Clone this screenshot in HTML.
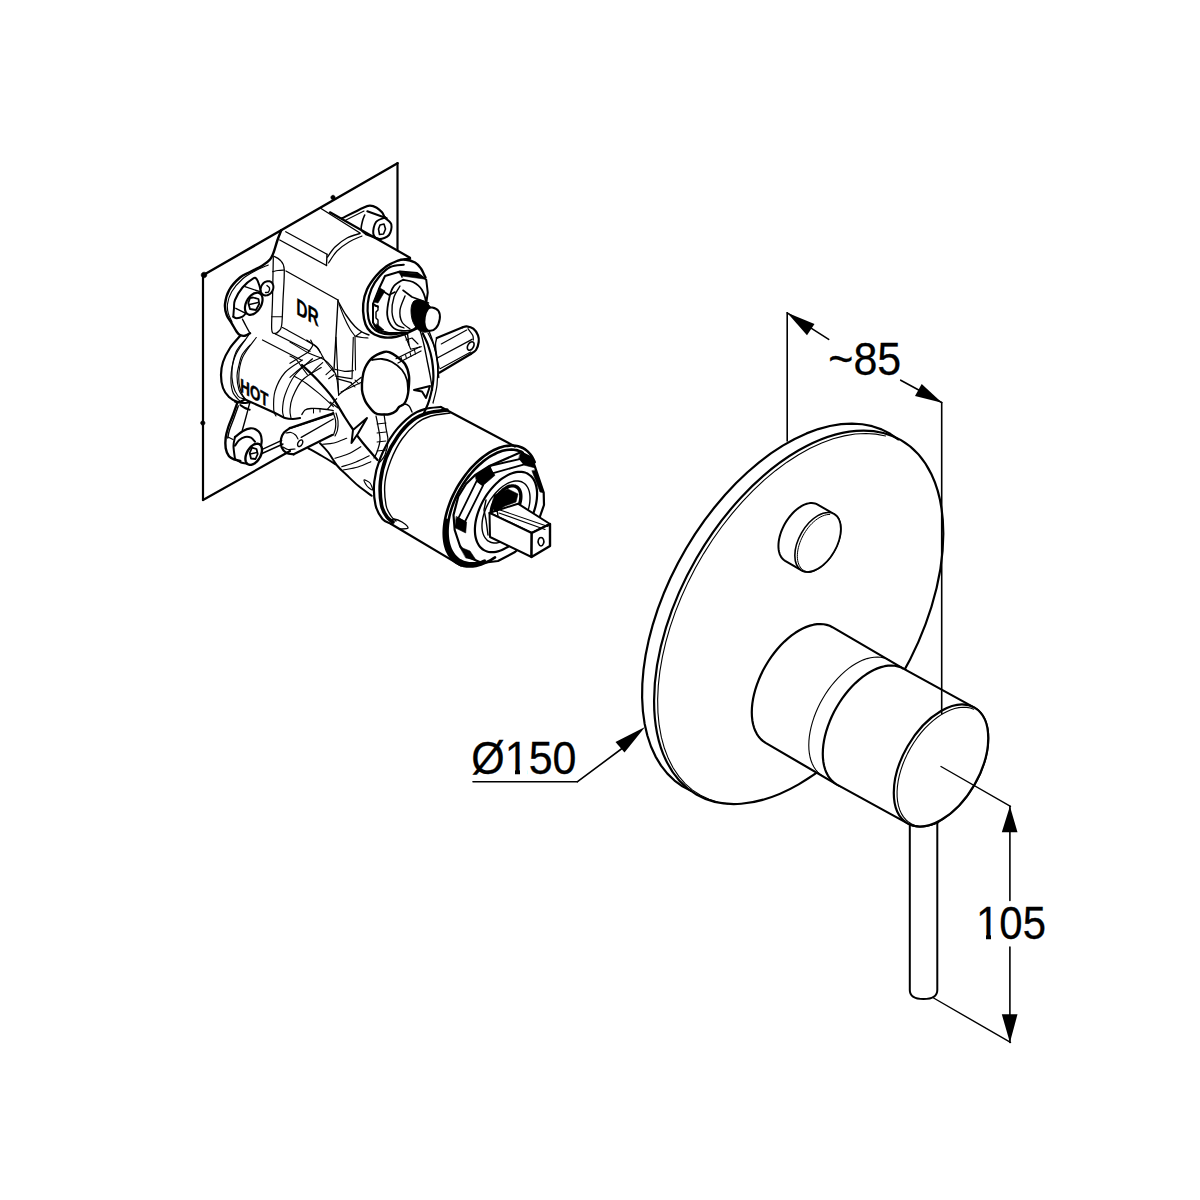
<!DOCTYPE html>
<html><head><meta charset="utf-8"><style>
html,body{margin:0;padding:0;background:#fff;width:1200px;height:1200px;overflow:hidden}
svg{position:absolute;left:0;top:0}
.t{position:absolute;font-family:"Liberation Sans",sans-serif;font-size:43px;line-height:43px;color:#000;white-space:nowrap;transform-origin:0 0;transform:scaleY(1.07);-webkit-text-stroke:0.25px #000}
</style></head><body>
<svg width="1200" height="1200" viewBox="0 0 1200 1200" fill="none" stroke="#000" stroke-linecap="round" stroke-linejoin="round">
<path d="M203.00 275.30 L397.50 163.20" stroke-width="2.40"/>
<path d="M397.50 163.20 L397.50 250.30" stroke-width="2.20"/>
<path d="M203.00 275.30 L203.00 500.00" stroke-width="2.20"/>
<path d="M203.00 500.00 L290.00 451.00" stroke-width="2.20"/>
<path d="M281.25 230.25 C280.62 231.88 278.75 236.38 277.50 240.00 C276.25 243.62 275.00 248.75 273.75 252.00 C272.50 255.25 271.88 257.25 270.00 259.50 C268.12 261.75 265.83 263.42 262.50 265.50 C259.17 267.58 253.75 270.00 250.00 272.00 C246.25 274.00 243.47 274.50 240.00 277.50 C236.53 280.50 231.70 285.55 229.20 290.00 C226.70 294.45 225.42 300.03 225.00 304.20 C224.58 308.37 225.58 311.82 226.70 315.00 C227.82 318.18 230.03 320.52 231.70 323.30 C233.37 326.08 235.32 329.75 236.70 331.70 C238.08 333.65 238.62 334.32 240.00 335.00 C241.38 335.68 243.33 336.08 245.00 335.80 C246.67 335.52 249.17 333.72 250.00 333.30" stroke-width="2.40"/>
<path d="M268.30 265.00 C266.08 266.00 259.30 268.67 255.00 271.00 C250.70 273.33 246.38 275.55 242.50 279.00 C238.62 282.45 234.20 287.53 231.70 291.70 C229.20 295.87 228.07 300.40 227.50 304.00 C226.93 307.60 227.55 310.30 228.30 313.30 C229.05 316.30 231.38 320.55 232.00 322.00" stroke-width="1.15"/>
<path d="M242.50 319.20 C243.08 320.33 244.75 323.65 246.00 326.00 C247.25 328.35 249.33 332.08 250.00 333.30" stroke-width="1.38"/>
<path d="M240.00 336.00 C238.33 338.00 232.83 343.67 230.00 348.00 C227.17 352.33 224.50 357.50 223.00 362.00 C221.50 366.50 221.00 370.67 221.00 375.00 C221.00 379.33 221.67 384.33 223.00 388.00 C224.33 391.67 226.50 394.67 229.00 397.00 C231.50 399.33 235.50 401.50 238.00 402.00 C240.50 402.50 243.00 400.33 244.00 400.00" stroke-width="2.20"/>
<path d="M245.00 340.00 C243.50 342.00 238.17 347.00 236.00 352.00 C233.83 357.00 232.50 364.50 232.00 370.00 C231.50 375.50 232.00 380.67 233.00 385.00 C234.00 389.33 236.17 393.67 238.00 396.00 C239.83 398.33 243.00 398.50 244.00 399.00" stroke-width="1.15"/>
<path d="M250.00 345.00 C248.67 346.67 243.83 351.67 242.00 355.00 C240.17 358.33 239.83 361.50 239.00 365.00 C238.17 368.50 237.00 371.83 237.00 376.00 C237.00 380.17 237.83 386.33 239.00 390.00 C240.17 393.67 243.17 396.67 244.00 398.00" stroke-width="1.15"/>
<path d="M244.00 399.00 C249.17 401.33 268.17 409.83 275.00 413.00 C281.83 416.17 282.00 417.00 285.00 418.00 C288.00 419.00 290.50 419.00 293.00 419.00 C295.50 419.00 298.83 418.17 300.00 418.00" stroke-width="2.20"/>
<path d="M282.50 327.50 C287.71 330.42 307.50 340.92 313.75 345.00 C320.00 349.08 318.96 350.83 320.00 352.00" stroke-width="1.26"/>
<path d="M275.00 333.75 L310.00 351.25" stroke-width="1.26"/>
<path d="M262.50 340.00 L301.25 360.00" stroke-width="1.26"/>
<path d="M248.75 335.00 C246.67 338.12 239.17 347.50 236.25 353.75 C233.33 360.00 231.88 366.25 231.25 372.50 C230.62 378.75 231.04 386.46 232.50 391.25 C233.96 396.04 238.75 399.58 240.00 401.25" stroke-width="1.15"/>
<path d="M256.25 337.50 C253.96 340.83 245.42 350.62 242.50 357.50 C239.58 364.38 238.75 372.50 238.75 378.75 C238.75 385.00 240.62 390.96 242.50 395.00 C244.38 399.04 248.75 401.67 250.00 403.00" stroke-width="1.15"/>
<path d="M302.50 360.00 C299.58 362.08 289.58 367.29 285.00 372.50 C280.42 377.71 276.88 385.00 275.00 391.25 C273.12 397.50 273.58 405.88 273.75 410.00 C273.92 414.12 275.62 415.00 276.00 416.00" stroke-width="1.15"/>
<path d="M312.50 358.75 C309.58 361.46 299.58 368.96 295.00 375.00 C290.42 381.04 287.08 389.17 285.00 395.00 C282.92 400.83 282.67 406.17 282.50 410.00 C282.33 413.83 283.75 416.67 284.00 418.00" stroke-width="1.15"/>
<path d="M321.25 367.50 C318.12 369.58 307.29 375.00 302.50 380.00 C297.71 385.00 294.58 392.50 292.50 397.50 C290.42 402.50 290.25 406.58 290.00 410.00 C289.75 413.42 290.83 416.67 291.00 418.00" stroke-width="1.15"/>
<path d="M302.00 365.00 C304.58 367.50 312.42 374.58 317.50 380.00 C322.58 385.42 327.92 391.25 332.50 397.50 C337.08 403.75 341.67 412.29 345.00 417.50 C348.33 422.71 349.58 424.58 352.50 428.75 C355.42 432.92 358.33 437.29 362.50 442.50 C366.67 447.71 375.00 457.08 377.50 460.00" stroke-width="2.20"/>
<path d="M273.30 256.00 C274.42 256.67 278.18 257.80 280.00 260.00 C281.82 262.20 283.70 262.53 284.20 269.20 C284.70 275.87 283.42 290.70 283.00 300.00 C282.58 309.30 282.37 319.83 281.70 325.00 C281.03 330.17 280.12 329.62 279.00 331.00 C277.88 332.38 276.22 333.60 275.00 333.30 C273.78 333.00 272.12 334.75 271.70 329.20 C271.28 323.65 272.23 311.95 272.50 300.00 C272.77 288.05 273.17 264.58 273.30 257.50" stroke-width="1.26"/>
<path d="M272.50 271.70 C273.42 271.50 276.00 270.78 278.00 270.50 C280.00 270.22 283.42 270.08 284.50 270.00" stroke-width="1.15"/>
<path d="M271.50 316.70 L282.50 316.70" stroke-width="1.15"/>
<path d="M279.75 240.00 L326.50 265.50" stroke-width="1.38"/>
<path d="M285.75 231.75 L327.00 254.25" stroke-width="1.38"/>
<path d="M321.00 208.50 L360.00 233.00" stroke-width="1.38"/>
<path d="M327.00 254.25 L326.50 265.50" stroke-width="1.38"/>
<path d="M327.50 257.00 C328.75 255.33 331.75 250.17 335.00 247.00 C338.25 243.83 342.83 240.25 347.00 238.00 C351.17 235.75 357.83 234.25 360.00 233.50" stroke-width="1.38"/>
<path d="M328.50 263.00 C329.92 261.00 333.58 254.50 337.00 251.00 C340.42 247.50 344.83 244.50 349.00 242.00 C353.17 239.50 359.83 237.00 362.00 236.00" stroke-width="1.15"/>
<path d="M286.00 271.00 L338.00 300.00" stroke-width="1.38"/>
<path d="M338.00 300.00 L334.00 370.00" stroke-width="1.38"/>
<path d="M338.00 301.00 C339.33 303.33 343.17 310.75 346.00 315.00 C348.83 319.25 352.33 323.67 355.00 326.50 C357.67 329.33 359.67 330.58 362.00 332.00 C364.33 333.42 367.83 334.50 369.00 335.00" stroke-width="1.38"/>
<path d="M339.00 304.00 C339.83 306.17 342.17 312.83 344.00 317.00 C345.83 321.17 348.17 325.83 350.00 329.00 C351.83 332.17 354.17 334.83 355.00 336.00" stroke-width="1.15"/>
<path d="M356.00 336.50 C357.00 336.67 360.00 337.25 362.00 337.50 C364.00 337.75 367.00 337.92 368.00 338.00" stroke-width="1.15"/>
<path d="M356.00 336.00 L361.50 332.00" stroke-width="1.15"/>
<path d="M355.00 336.00 L355.50 370.00" stroke-width="1.15"/>
<path d="M330.00 212.30 L410.00 257.70" stroke-width="2.20"/>
<path d="M342.00 218.30 C345.55 216.53 358.63 209.80 363.30 207.70 C367.97 205.60 367.77 205.70 370.00 205.70 C372.23 205.70 374.70 206.60 376.70 207.70 C378.70 208.80 380.78 210.92 382.00 212.30 C383.22 213.68 383.67 215.38 384.00 216.00" stroke-width="2.20"/>
<path d="M345.00 220.50 L364.00 211.00" stroke-width="1.15"/>
<path d="M367.30 211.30 L386.70 218.30" stroke-width="2.00"/>
<path d="M364.70 215.00 C364.33 216.00 363.07 218.55 362.50 221.00 C361.93 223.45 360.72 227.48 361.30 229.70 C361.88 231.92 365.22 233.53 366.00 234.30" stroke-width="1.60"/>
<path d="M366.00 234.30 L380.70 239.70" stroke-width="2.00"/>
<path d="M384.70 217.70 C385.80 218.80 390.58 221.42 391.30 224.30 C392.02 227.18 391.00 232.55 389.00 235.00 C387.00 237.45 381.92 239.22 379.30 239.00 C376.68 238.78 373.85 236.53 373.30 233.70 C372.75 230.87 374.10 224.67 376.00 222.00 C377.90 219.33 383.25 218.42 384.70 217.70 C386.15 216.98 383.60 216.60 384.70 217.70Z" stroke-width="2.00"/>
<path d="M380.00 225.00 L384.00 224.00 L385.50 229.00 L383.50 234.00 L379.50 234.50 L378.50 229.00Z" stroke-width="1.60"/>
<path d="M425.50 277.50 C425.25 277.00 424.75 276.00 424.00 274.50 C423.25 273.00 422.50 270.50 421.00 268.50 C419.50 266.50 417.75 264.00 415.00 262.50 C412.25 261.00 407.50 259.75 404.50 259.50 C401.50 259.25 400.00 259.87 397.00 261.00 C394.00 262.13 390.00 263.80 386.50 266.30 C383.00 268.80 379.25 272.13 376.00 276.00 C372.75 279.87 369.12 284.88 367.00 289.50 C364.88 294.12 363.75 298.88 363.25 303.75 C362.75 308.62 363.25 314.62 364.00 318.75 C364.75 322.88 366.00 325.88 367.75 328.50 C369.50 331.12 371.62 333.00 374.50 334.50 C377.38 336.00 381.38 337.12 385.00 337.50 C388.62 337.88 392.75 337.38 396.25 336.75 C399.75 336.12 404.38 334.25 406.00 333.75" stroke-width="2.40"/>
<path d="M410.00 258.50 L404.50 259.50" stroke-width="2.40"/>
<path d="M403.75 264.75 C401.50 265.12 394.25 265.12 390.25 267.00 C386.25 268.88 382.88 272.38 379.75 276.00 C376.62 279.62 373.50 284.12 371.50 288.75 C369.50 293.38 368.25 298.75 367.75 303.75 C367.25 308.75 367.75 314.88 368.50 318.75 C369.25 322.62 370.50 324.75 372.25 327.00 C374.00 329.25 375.88 331.00 379.00 332.25 C382.12 333.50 387.25 334.38 391.00 334.50 C394.75 334.62 399.75 333.25 401.50 333.00" stroke-width="2.20"/>
<path d="M385.00 276.00 L400.00 271.50 L417.25 273.00 L426.25 279.75 L427.75 292.50 L425.00 312.00 L418.00 328.00 L407.50 333.00 L388.75 333.00 L377.50 330.00 L373.00 322.50 L373.00 303.75 L379.00 288.75Z" stroke-width="2.00" fill="#fff"/>
<path d="M379.00 288.75 L389.00 295.00 L395.00 292.00" stroke-width="1.60"/>
<path d="M373.00 303.75 L378.00 307.00" stroke-width="1.60"/>
<path d="M400.00 271.50 L402.00 277.00" stroke-width="1.60"/>
<path d="M380.00 288.00 L385.00 291.00 L378.00 303.00 L374.00 302.00Z" stroke-width="0.57" fill="#000"/>
<path d="M398.00 272.00 L418.00 274.00 L424.00 279.00 L402.00 276.00Z" stroke-width="0.57" fill="#000"/>
<path d="M377.00 324.00 L384.00 330.00 L378.00 331.00 L374.00 326.00Z" stroke-width="0.57" fill="#000"/>
<path d="M375.00 306.00 L378.00 306.00 L378.00 310.00 L376.00 312.00 L376.00 318.00 L378.00 320.00 L378.00 325.00" stroke-width="1.40"/>
<path d="M403.00 279.75 C401.50 280.79 396.25 283.12 394.00 286.00 C391.75 288.88 390.62 292.17 389.50 297.00 C388.38 301.83 386.75 310.00 387.25 315.00 C387.75 320.00 390.12 324.38 392.50 327.00 C394.88 329.62 398.00 330.38 401.50 330.75 C405.00 331.12 410.08 331.04 413.50 329.25 C416.92 327.46 419.92 324.04 422.00 320.00 C424.08 315.96 426.00 310.00 426.00 305.00 C426.00 300.00 424.17 293.83 422.00 290.00 C419.83 286.17 416.17 283.71 413.00 282.00 C409.83 280.29 404.67 280.12 403.00 279.75" stroke-width="1.80"/>
<path d="M400.00 286.00 C399.00 287.83 395.33 292.67 394.00 297.00 C392.67 301.33 391.67 307.50 392.00 312.00 C392.33 316.50 394.00 321.33 396.00 324.00 C398.00 326.67 402.67 327.33 404.00 328.00" stroke-width="1.38"/>
<path d="M403.00 290.25 L412.00 297.00 L428.50 303.00" stroke-width="1.60"/>
<path d="M405.00 296.00 C404.17 298.33 400.50 305.67 400.00 310.00 C399.50 314.33 400.33 318.83 402.00 322.00 C403.67 325.17 408.67 327.83 410.00 329.00" stroke-width="1.40"/>
<path d="M413.50 301.50 C415.00 299.83 417.58 299.58 420.00 300.00 C422.42 300.42 426.00 302.00 428.00 304.00 C430.00 306.00 431.67 307.67 432.00 312.00 C432.33 316.33 432.00 326.83 430.00 330.00 C428.00 333.17 422.83 332.33 420.00 331.00 C417.17 329.67 414.50 325.50 413.00 322.00 C411.50 318.50 410.92 313.42 411.00 310.00 C411.08 306.58 412.00 303.17 413.50 301.50Z" stroke-width="0.92" fill="#000"/>
<path d="M432.25 307.50 C434.00 307.83 437.25 309.08 438.50 311.00 C439.75 312.92 440.17 316.17 439.75 319.00 C439.33 321.83 437.79 326.04 436.00 328.00 C434.21 329.96 430.83 331.08 429.00 330.75 C427.17 330.42 425.71 328.29 425.00 326.00 C424.29 323.71 424.25 319.83 424.75 317.00 C425.25 314.17 426.75 310.58 428.00 309.00 C429.25 307.42 430.50 307.17 432.25 307.50Z" stroke-width="2.00" fill="#fff"/>
<path d="M407.50 333.75 L409.00 345.00" stroke-width="1.38"/>
<path d="M420.25 331.00 C420.88 333.33 422.88 340.17 424.00 345.00 C425.12 349.83 426.00 355.00 427.00 360.00 C428.00 365.00 429.08 370.00 430.00 375.00 C430.92 380.00 432.08 387.50 432.50 390.00" stroke-width="1.38"/>
<path d="M429.00 331.00 C429.83 333.33 432.67 340.17 434.00 345.00 C435.33 349.83 436.21 354.58 437.00 360.00 C437.79 365.42 438.46 374.58 438.75 377.50" stroke-width="1.38"/>
<path d="M436.70 338.00 L462.70 327.30" stroke-width="2.20"/>
<path d="M462.70 327.30 C463.37 327.15 464.93 326.17 466.70 326.40 C468.47 326.63 471.42 327.22 473.30 328.70 C475.18 330.18 477.10 333.08 478.00 335.30 C478.90 337.52 479.03 339.55 478.70 342.00 C478.37 344.45 477.33 348.00 476.00 350.00 C474.67 352.00 471.58 353.33 470.70 354.00" stroke-width="2.20"/>
<path d="M470.70 354.00 L439.30 372.70" stroke-width="2.20"/>
<path d="M441.30 344.00 L466.70 330.00" stroke-width="1.15"/>
<path d="M437.30 358.00 L472.00 339.30" stroke-width="1.38"/>
<path d="M440.00 368.70 L470.70 352.00" stroke-width="1.15"/>
<path d="M468.00 328.70 C468.78 329.80 471.82 333.42 472.70 335.30 C473.58 337.18 473.20 339.22 473.30 340.00" stroke-width="1.26"/>
<path d="M473.00 342.02 C473.11 342.12 473.48 342.39 473.65 342.65 C473.82 342.92 473.95 343.26 474.01 343.62 C474.08 343.98 474.09 344.39 474.05 344.81 C474.01 345.23 473.91 345.69 473.76 346.13 C473.61 346.56 473.41 347.02 473.17 347.43 C472.93 347.84 472.64 348.24 472.34 348.59 C472.03 348.93 471.69 349.25 471.35 349.50 C471.01 349.74 470.64 349.94 470.29 350.06 C469.95 350.18 469.59 350.24 469.28 350.23 C468.96 350.22 468.65 350.13 468.40 349.98 C468.15 349.84 467.92 349.61 467.75 349.35 C467.58 349.08 467.45 348.74 467.39 348.38 C467.32 348.02 467.31 347.61 467.35 347.19 C467.39 346.77 467.49 346.31 467.64 345.87 C467.79 345.44 467.99 344.98 468.23 344.57 C468.47 344.16 468.76 343.76 469.06 343.41 C469.37 343.07 469.71 342.75 470.05 342.50 C470.39 342.26 470.76 342.06 471.11 341.94 C471.45 341.82 471.81 341.76 472.12 341.77 C472.44 341.78 472.85 341.98 473.00 342.02" stroke-width="1.60"/>
<path d="M436.70 338.00 C436.50 339.17 435.45 341.67 435.50 345.00 C435.55 348.33 436.42 354.17 437.00 358.00 C437.58 361.83 438.67 366.33 439.00 368.00" stroke-width="1.38"/>
<path d="M384.00 352.00 C381.00 352.92 375.17 355.33 372.00 358.00 C368.83 360.67 366.58 364.67 365.00 368.00 C363.42 371.33 363.00 374.33 362.50 378.00 C362.00 381.67 361.75 386.67 362.00 390.00 C362.25 393.33 363.17 395.67 364.00 398.00 C364.83 400.33 365.17 401.50 367.00 404.00 C368.83 406.50 372.33 411.25 375.00 413.00 C377.67 414.75 380.50 414.33 383.00 414.50 C385.50 414.67 387.83 414.58 390.00 414.00 C392.17 413.42 394.50 412.17 396.00 411.00 C397.50 409.83 397.67 408.17 399.00 407.00 C400.33 405.83 402.67 405.50 404.00 404.00 C405.33 402.50 406.25 400.33 407.00 398.00 C407.75 395.67 408.17 393.67 408.50 390.00 C408.83 386.33 409.58 380.33 409.00 376.00 C408.42 371.67 407.17 367.33 405.00 364.00 C402.83 360.67 398.50 357.92 396.00 356.00 C393.50 354.08 392.00 353.17 390.00 352.50 C388.00 351.83 387.00 351.08 384.00 352.00Z" stroke-width="2.40" fill="#fff"/>
<path d="M372.00 360.00 C373.67 359.83 378.67 358.67 382.00 359.00 C385.33 359.33 388.67 360.17 392.00 362.00 C395.33 363.83 399.50 367.00 402.00 370.00 C404.50 373.00 406.00 376.67 407.00 380.00 C408.00 383.33 407.83 388.33 408.00 390.00" stroke-width="1.80"/>
<path d="M399.00 407.00 C399.83 406.50 402.33 404.17 404.00 404.00 C405.67 403.83 407.67 404.67 409.00 406.00 C410.33 407.33 411.50 411.00 412.00 412.00" stroke-width="1.40"/>
<path d="M333.30 413.40 L290.00 428.00" stroke-width="2.20"/>
<path d="M290.00 428.00 C289.00 428.75 285.50 430.67 284.00 432.50 C282.50 434.33 281.42 436.58 281.00 439.00 C280.58 441.42 280.58 444.67 281.50 447.00 C282.42 449.33 284.47 451.78 286.50 453.00 C288.53 454.22 292.50 454.08 293.70 454.30" stroke-width="2.20"/>
<path d="M293.70 454.30 L332.20 435.00" stroke-width="2.20"/>
<path d="M290.75 428.50 L333.00 414.50" stroke-width="1.15"/>
<path d="M301.25 437.30 L333.30 419.00" stroke-width="1.38"/>
<path d="M286.00 433.00 C286.83 432.92 289.42 432.17 291.00 432.50 C292.58 432.83 294.33 433.92 295.50 435.00 C296.67 436.08 297.58 438.33 298.00 439.00" stroke-width="1.15"/>
<path d="M283.00 447.00 C283.83 447.42 286.00 449.17 288.00 449.50 C290.00 449.83 293.83 449.08 295.00 449.00" stroke-width="1.15"/>
<path d="M302.00 440.08 C302.08 440.16 302.36 440.36 302.49 440.57 C302.62 440.77 302.71 441.03 302.76 441.31 C302.80 441.59 302.81 441.92 302.77 442.24 C302.73 442.57 302.65 442.92 302.54 443.26 C302.42 443.60 302.26 443.96 302.07 444.28 C301.89 444.60 301.66 444.92 301.42 445.19 C301.19 445.46 300.92 445.71 300.66 445.91 C300.39 446.10 300.11 446.26 299.84 446.36 C299.58 446.46 299.31 446.51 299.07 446.50 C298.83 446.49 298.59 446.43 298.40 446.32 C298.21 446.21 298.04 446.04 297.91 445.83 C297.78 445.63 297.69 445.37 297.64 445.09 C297.60 444.81 297.59 444.48 297.63 444.16 C297.67 443.83 297.75 443.48 297.86 443.14 C297.98 442.80 298.14 442.44 298.33 442.12 C298.51 441.80 298.74 441.48 298.98 441.21 C299.21 440.94 299.48 440.69 299.74 440.49 C300.01 440.30 300.29 440.14 300.56 440.04 C300.82 439.94 301.09 439.89 301.33 439.90 C301.57 439.91 301.89 440.05 302.00 440.08" stroke-width="1.40"/>
<path d="M333.00 412.00 C333.42 413.33 335.08 417.33 335.50 420.00 C335.92 422.67 335.83 425.50 335.50 428.00 C335.17 430.50 333.83 433.83 333.50 435.00" stroke-width="1.26"/>
<path d="M336.00 413.00 C336.33 414.33 337.75 418.17 338.00 421.00 C338.25 423.83 338.00 427.50 337.50 430.00 C337.00 432.50 335.42 435.00 335.00 436.00" stroke-width="1.15"/>
<path d="M301.80 414.60 C302.33 413.83 303.47 411.02 305.00 410.00 C306.53 408.98 308.42 408.71 311.00 408.50 C313.58 408.29 316.78 408.42 320.50 408.75 C324.22 409.08 331.17 410.21 333.30 410.50" stroke-width="1.26"/>
<path d="M313.50 408.50 L313.50 413.00" stroke-width="1.03"/>
<path d="M320.00 408.50 L320.00 412.00" stroke-width="1.03"/>
<path d="M237.00 403.70 C236.33 405.58 234.45 411.12 233.00 415.00 C231.55 418.88 229.52 423.22 228.30 427.00 C227.08 430.78 226.13 434.15 225.70 437.70 C225.27 441.25 225.15 445.20 225.70 448.30 C226.25 451.40 227.45 454.40 229.00 456.30 C230.55 458.20 233.12 458.92 235.00 459.70 C236.88 460.48 239.42 460.78 240.30 461.00" stroke-width="2.40"/>
<path d="M238.30 406.00 C237.58 408.00 235.47 414.00 234.00 418.00 C232.53 422.00 230.55 426.67 229.50 430.00 C228.45 433.33 228.00 436.67 227.70 438.00" stroke-width="1.40"/>
<path d="M249.70 403.00 C249.08 405.33 247.23 412.45 246.00 417.00 C244.77 421.55 242.92 428.08 242.30 430.30" stroke-width="1.38"/>
<path d="M228.00 437.00 L233.00 439.50" stroke-width="1.38"/>
<path d="M235.00 401.70 C236.33 401.92 240.55 402.90 243.00 403.00 C245.45 403.10 248.58 402.42 249.70 402.30" stroke-width="2.00"/>
<path d="M240.30 405.00 C241.08 405.50 243.43 407.22 245.00 408.00 C246.57 408.78 248.92 409.42 249.70 409.70" stroke-width="2.00"/>
<path d="M235.00 437.00 C236.33 436.00 240.45 432.45 243.00 431.00 C245.55 429.55 248.08 428.52 250.30 428.30 C252.52 428.08 254.63 428.80 256.30 429.70 C257.97 430.60 259.40 431.93 260.30 433.70 C261.20 435.47 261.58 438.30 261.70 440.30 C261.82 442.30 261.12 444.80 261.00 445.70" stroke-width="2.20"/>
<path d="M235.00 445.70 C235.67 444.80 237.33 441.75 239.00 440.30 C240.67 438.85 243.00 437.43 245.00 437.00 C247.00 436.57 249.33 436.92 251.00 437.70 C252.67 438.48 254.33 441.03 255.00 441.70" stroke-width="2.00"/>
<path d="M235.00 437.00 C234.75 438.50 233.50 442.33 233.50 446.00 C233.50 449.67 234.75 456.83 235.00 459.00" stroke-width="2.00"/>
<path d="M235.00 459.00 C236.00 459.58 239.00 461.72 241.00 462.50 C243.00 463.28 246.00 463.50 247.00 463.70" stroke-width="2.00"/>
<path d="M259.45 444.34 C259.59 444.45 260.05 444.74 260.31 445.00 C260.57 445.26 260.81 445.56 261.02 445.89 C261.22 446.23 261.39 446.60 261.54 446.99 C261.68 447.39 261.79 447.82 261.86 448.27 C261.94 448.72 261.98 449.20 261.99 449.70 C262.00 450.19 261.97 450.71 261.91 451.24 C261.85 451.76 261.76 452.31 261.63 452.85 C261.51 453.40 261.35 453.95 261.16 454.50 C260.97 455.05 260.75 455.61 260.50 456.15 C260.25 456.69 259.98 457.23 259.68 457.75 C259.38 458.27 259.05 458.78 258.70 459.27 C258.36 459.75 257.99 460.22 257.61 460.66 C257.22 461.10 256.82 461.51 256.41 461.90 C256.01 462.28 255.58 462.63 255.15 462.95 C254.73 463.26 254.29 463.54 253.86 463.78 C253.43 464.02 252.99 464.23 252.56 464.39 C252.13 464.54 251.70 464.66 251.29 464.74 C250.88 464.82 250.47 464.85 250.08 464.84 C249.69 464.83 249.31 464.77 248.96 464.68 C248.60 464.58 248.26 464.44 247.95 464.26 C247.64 464.08 247.35 463.86 247.09 463.60 C246.83 463.34 246.59 463.04 246.38 462.71 C246.18 462.37 246.01 462.00 245.86 461.61 C245.72 461.21 245.61 460.78 245.54 460.33 C245.46 459.88 245.42 459.40 245.41 458.90 C245.40 458.41 245.43 457.89 245.49 457.36 C245.55 456.84 245.64 456.29 245.77 455.75 C245.89 455.20 246.05 454.65 246.24 454.10 C246.43 453.55 246.65 452.99 246.90 452.45 C247.15 451.91 247.42 451.37 247.72 450.85 C248.02 450.33 248.35 449.82 248.70 449.33 C249.04 448.85 249.41 448.38 249.79 447.94 C250.18 447.50 250.58 447.09 250.99 446.70 C251.39 446.32 251.82 445.97 252.25 445.65 C252.67 445.34 253.11 445.06 253.54 444.82 C253.97 444.58 254.41 444.37 254.84 444.21 C255.27 444.06 255.70 443.94 256.11 443.86 C256.52 443.78 256.93 443.75 257.32 443.76 C257.71 443.77 258.09 443.83 258.44 443.92 C258.80 444.02 259.28 444.27 259.45 444.34" stroke-width="2.40" fill="#fff"/>
<path d="M252.00 447.70 L256.50 449.00 L257.70 454.00 L255.50 459.00 L251.00 458.50 L249.70 453.00Z" stroke-width="1.80"/>
<path d="M250.00 454.00 L257.00 452.50" stroke-width="1.38"/>
<path d="M261.70 449.70 L281.70 440.30" stroke-width="1.38"/>
<path d="M262.00 453.50 L283.00 444.00" stroke-width="1.38"/>
<path d="M233.30 316.70 C233.42 315.25 233.72 310.78 234.00 308.00 C234.28 305.22 233.58 303.42 235.00 300.00 C236.42 296.58 239.45 291.12 242.50 287.50 C245.55 283.88 250.93 279.68 253.30 278.30 C255.67 276.92 255.72 278.08 256.70 279.20 C257.68 280.32 258.48 282.87 259.20 285.00 C259.92 287.13 260.70 290.83 261.00 292.00" stroke-width="2.00"/>
<path d="M233.30 316.70 C233.87 316.97 235.17 318.30 236.70 318.30 C238.23 318.30 240.95 317.58 242.50 316.70 C244.05 315.82 245.42 313.62 246.00 313.00" stroke-width="2.00"/>
<path d="M245.00 286.70 L260.00 291.70" stroke-width="1.38"/>
<path d="M235.80 308.30 L245.80 313.30" stroke-width="1.38"/>
<path d="M259.75 293.36 C259.91 293.48 260.40 293.79 260.68 294.07 C260.97 294.34 261.22 294.66 261.45 295.02 C261.67 295.37 261.86 295.76 262.02 296.18 C262.18 296.60 262.30 297.05 262.39 297.53 C262.48 298.00 262.53 298.51 262.55 299.03 C262.57 299.55 262.55 300.10 262.49 300.65 C262.43 301.20 262.34 301.78 262.21 302.35 C262.09 302.92 261.93 303.50 261.73 304.08 C261.54 304.65 261.31 305.23 261.05 305.80 C260.80 306.36 260.51 306.93 260.19 307.47 C259.88 308.01 259.54 308.55 259.18 309.05 C258.81 309.55 258.43 310.04 258.02 310.50 C257.62 310.95 257.20 311.39 256.77 311.78 C256.34 312.18 255.89 312.54 255.44 312.87 C254.99 313.19 254.52 313.48 254.06 313.73 C253.60 313.97 253.14 314.18 252.68 314.34 C252.23 314.51 251.77 314.63 251.33 314.70 C250.89 314.77 250.45 314.80 250.03 314.78 C249.62 314.77 249.21 314.70 248.83 314.60 C248.45 314.49 248.09 314.34 247.75 314.14 C247.41 313.95 247.10 313.71 246.82 313.43 C246.53 313.16 246.28 312.84 246.05 312.48 C245.83 312.13 245.64 311.74 245.48 311.32 C245.32 310.90 245.20 310.45 245.11 309.97 C245.02 309.50 244.97 308.99 244.95 308.47 C244.93 307.95 244.95 307.40 245.01 306.85 C245.07 306.30 245.16 305.72 245.29 305.15 C245.41 304.58 245.57 304.00 245.77 303.42 C245.96 302.85 246.19 302.27 246.45 301.70 C246.70 301.14 246.99 300.57 247.31 300.03 C247.62 299.49 247.96 298.95 248.32 298.45 C248.69 297.95 249.07 297.46 249.48 297.00 C249.88 296.55 250.30 296.11 250.73 295.72 C251.16 295.32 251.61 294.96 252.06 294.63 C252.51 294.31 252.98 294.02 253.44 293.77 C253.90 293.53 254.36 293.32 254.82 293.16 C255.27 292.99 255.73 292.87 256.17 292.80 C256.61 292.73 257.05 292.70 257.47 292.72 C257.88 292.73 258.29 292.80 258.67 292.90 C259.05 293.01 259.57 293.28 259.75 293.36" stroke-width="2.20" fill="#fff"/>
<path d="M253.00 297.50 L258.50 299.00 L259.20 304.00 L256.00 310.00 L250.00 309.00 L248.30 303.00 L250.00 298.00Z" stroke-width="1.80"/>
<path d="M249.50 304.50 L258.00 302.50" stroke-width="1.38"/>
<path d="M270.75 281.80 C270.91 281.92 271.41 282.24 271.69 282.51 C271.98 282.79 272.23 283.11 272.45 283.45 C272.67 283.79 272.86 284.17 273.00 284.57 C273.15 284.96 273.26 285.39 273.33 285.83 C273.39 286.27 273.42 286.73 273.40 287.19 C273.39 287.65 273.33 288.12 273.24 288.59 C273.14 289.05 273.00 289.52 272.83 289.98 C272.65 290.43 272.44 290.88 272.20 291.30 C271.95 291.72 271.67 292.13 271.36 292.51 C271.06 292.89 270.72 293.24 270.37 293.56 C270.01 293.87 269.63 294.16 269.24 294.40 C268.85 294.65 268.43 294.85 268.02 295.01 C267.61 295.17 267.19 295.29 266.77 295.37 C266.35 295.44 265.93 295.47 265.52 295.45 C265.12 295.43 264.71 295.36 264.34 295.26 C263.96 295.15 263.59 294.99 263.25 294.80 C262.91 294.60 262.59 294.36 262.31 294.09 C262.02 293.81 261.77 293.49 261.55 293.15 C261.33 292.81 261.14 292.43 261.00 292.03 C260.85 291.64 260.74 291.21 260.67 290.77 C260.61 290.33 260.58 289.87 260.60 289.41 C260.61 288.95 260.67 288.48 260.76 288.01 C260.86 287.55 261.00 287.08 261.17 286.62 C261.35 286.17 261.56 285.72 261.80 285.30 C262.05 284.88 262.33 284.47 262.64 284.09 C262.94 283.71 263.28 283.36 263.63 283.04 C263.99 282.73 264.37 282.44 264.76 282.20 C265.15 281.95 265.57 281.75 265.98 281.59 C266.39 281.43 266.81 281.31 267.23 281.23 C267.65 281.16 268.07 281.13 268.48 281.15 C268.88 281.17 269.29 281.24 269.66 281.34 C270.04 281.45 270.57 281.73 270.75 281.80" stroke-width="2.00" fill="#fff"/>
<path d="M267.00 285.50 C267.42 285.92 269.25 286.92 269.50 288.00 C269.75 289.08 269.17 291.25 268.50 292.00 C267.83 292.75 266.00 292.42 265.50 292.50" stroke-width="1.38"/>
<path d="M440.80 407.00 L515.00 446.50 L535.00 465.00 L544.00 493.00 L544.00 506.00 L538.00 522.00 L520.00 550.00 L500.00 560.00 L478.00 567.00 L461.00 565.60 L390.70 523.70 L382.50 519.00 L375.50 505.00 L374.30 481.70 L380.20 458.30 L394.20 432.70 L411.70 415.20Z" stroke-width="0.00" fill="#fff"/>
<path d="M440.80 407.00 C438.17 407.33 429.85 407.63 425.00 409.00 C420.15 410.37 416.83 411.25 411.70 415.20 C406.57 419.15 399.45 425.52 394.20 432.70 C388.95 439.88 383.52 450.13 380.20 458.30 C376.88 466.47 375.08 473.92 374.30 481.70 C373.52 489.48 374.13 498.78 375.50 505.00 C376.87 511.22 379.97 515.88 382.50 519.00 C385.03 522.12 389.33 522.92 390.70 523.70" stroke-width="2.20"/>
<path d="M447.00 410.00 C443.83 410.50 433.67 411.33 428.00 413.00 C422.33 414.67 418.00 416.17 413.00 420.00 C408.00 423.83 402.50 429.67 398.00 436.00 C393.50 442.33 388.92 450.38 386.00 458.00 C383.08 465.62 381.25 473.87 380.50 481.70 C379.75 489.53 380.42 499.12 381.50 505.00 C382.58 510.88 385.08 514.17 387.00 517.00 C388.92 519.83 392.00 521.17 393.00 522.00" stroke-width="3.60"/>
<path d="M450.00 413.00 C446.83 413.50 436.50 414.33 431.00 416.00 C425.50 417.67 421.83 419.17 417.00 423.00 C412.17 426.83 406.33 432.83 402.00 439.00 C397.67 445.17 393.83 452.83 391.00 460.00 C388.17 467.17 385.83 474.50 385.00 482.00 C384.17 489.50 385.00 499.33 386.00 505.00 C387.00 510.67 389.33 513.33 391.00 516.00 C392.67 518.67 395.17 520.17 396.00 521.00" stroke-width="1.38"/>
<path d="M440.80 407.00 L515.00 446.50" stroke-width="2.20"/>
<path d="M390.70 523.70 L461.00 565.60" stroke-width="2.20"/>
<path d="M390.00 521.00 C390.67 520.67 392.00 518.83 394.00 519.00 C396.00 519.17 399.67 520.50 402.00 522.00 C404.33 523.50 408.33 526.83 408.00 528.00 C407.67 529.17 401.33 528.83 400.00 529.00" stroke-width="1.40"/>
<path d="M495.00 557.34 C494.42 557.71 492.68 558.88 491.52 559.58 C490.36 560.27 489.19 560.92 488.03 561.52 C486.88 562.12 485.72 562.66 484.57 563.15 C483.42 563.65 482.27 564.09 481.13 564.48 C479.99 564.86 478.86 565.19 477.75 565.47 C476.63 565.75 475.52 565.97 474.43 566.14 C473.35 566.31 472.27 566.42 471.21 566.48 C470.15 566.53 469.11 566.53 468.10 566.48 C467.08 566.42 466.08 566.31 465.10 566.15 C464.13 565.98 463.18 565.76 462.25 565.48 C461.33 565.21 460.43 564.87 459.56 564.49 C458.69 564.10 457.85 563.66 457.04 563.17 C456.23 562.68 455.45 562.14 454.70 561.54 C453.95 560.95 453.24 560.30 452.56 559.60 C451.88 558.91 451.24 558.16 450.63 557.37 C450.03 556.57 449.46 555.73 448.92 554.85 C448.39 553.96 447.90 553.03 447.45 552.06 C446.99 551.09 446.58 550.07 446.21 549.01 C445.84 547.96 445.50 546.86 445.21 545.73 C444.92 544.60 444.68 543.43 444.47 542.23 C444.27 541.03 444.10 539.79 443.98 538.53 C443.86 537.27 443.79 535.97 443.75 534.65 C443.72 533.33 443.73 531.98 443.78 530.61 C443.83 529.24 443.93 527.85 444.07 526.44 C444.21 525.03 444.39 523.59 444.61 522.15 C444.84 520.70 445.10 519.24 445.41 517.77 C445.72 516.30 446.07 514.82 446.46 513.33 C446.85 511.84 447.28 510.34 447.75 508.85 C448.22 507.35 448.73 505.85 449.28 504.35 C449.83 502.85 450.41 501.35 451.04 499.86 C451.66 498.37 452.32 496.88 453.01 495.40 C453.71 493.93 454.44 492.46 455.20 491.01 C455.96 489.55 456.75 488.11 457.57 486.69 C458.40 485.27 459.25 483.87 460.14 482.48 C461.02 481.10 461.93 479.74 462.87 478.41 C463.80 477.07 464.76 475.76 465.75 474.48 C466.73 473.20 467.74 471.95 468.77 470.73 C469.80 469.51 470.85 468.33 471.91 467.18 C472.97 466.03 474.06 464.91 475.15 463.83 C476.25 462.76 477.36 461.72 478.48 460.73 C479.60 459.73 480.74 458.78 481.88 457.87 C483.02 456.96 484.17 456.09 485.32 455.28 C486.48 454.46 487.64 453.69 488.80 452.96 C489.96 452.24 491.12 451.57 492.28 450.94 C493.44 450.32 494.60 449.75 495.76 449.23 C496.91 448.71 498.06 448.24 499.20 447.83 C500.34 447.42 501.48 447.05 502.60 446.75 C503.72 446.44 504.84 446.19 505.93 446.00 C507.03 445.80 508.12 445.66 509.18 445.58 C510.25 445.49 511.30 445.46 512.33 445.49 C513.35 445.52 514.37 445.60 515.35 445.74 C516.34 445.88 517.30 446.07 518.24 446.32 C519.18 446.57 520.09 446.87 520.97 447.23 C521.86 447.59 522.72 448.00 523.54 448.46 C524.37 448.93 525.16 449.45 525.93 450.02 C526.69 450.59 527.42 451.21 528.12 451.88 C528.81 452.55 529.48 453.27 530.10 454.04 C530.72 454.81 531.31 455.63 531.86 456.49 C532.41 457.35 532.93 458.26 533.40 459.21 C533.87 460.16 534.48 461.69 534.70 462.19" stroke-width="2.60"/>
<path d="M484.70 560.71 C484.24 560.88 482.88 561.40 481.98 561.69 C481.08 561.97 480.19 562.22 479.30 562.44 C478.42 562.65 477.54 562.83 476.67 562.97 C475.80 563.11 474.94 563.22 474.10 563.28 C473.25 563.35 472.42 563.38 471.59 563.37 C470.77 563.36 469.96 563.31 469.17 563.23 C468.38 563.14 467.60 563.02 466.84 562.87 C466.07 562.71 465.33 562.51 464.60 562.28 C463.87 562.05 463.16 561.78 462.47 561.48 C461.77 561.17 461.10 560.83 460.45 560.45 C459.80 560.08 459.17 559.66 458.56 559.22 C457.95 558.77 457.36 558.29 456.79 557.78 C456.23 557.26 455.69 556.71 455.17 556.13 C454.65 555.55 454.16 554.93 453.69 554.29 C453.22 553.64 452.77 552.97 452.35 552.26 C451.94 551.55 451.54 550.81 451.18 550.05 C450.81 549.28 450.47 548.49 450.16 547.67 C449.85 546.84 449.56 545.99 449.31 545.12 C449.05 544.25 448.82 543.35 448.62 542.42 C448.42 541.50 448.24 540.55 448.10 539.58 C447.96 538.62 447.84 537.62 447.75 536.62 C447.67 535.61 447.61 534.57 447.58 533.53 C447.55 532.48 447.55 531.41 447.58 530.33 C447.61 529.25 447.67 528.15 447.76 527.04 C447.84 525.93 447.96 524.81 448.10 523.67 C448.25 522.54 448.42 521.39 448.62 520.23 C448.83 519.08 449.06 517.91 449.31 516.74 C449.57 515.57 449.86 514.39 450.17 513.21 C450.48 512.03 450.82 510.84 451.19 509.65 C451.55 508.46 451.95 507.27 452.37 506.08 C452.79 504.89 453.23 503.70 453.70 502.51 C454.17 501.32 454.67 500.13 455.18 498.95 C455.70 497.77 456.25 496.60 456.81 495.43 C457.38 494.26 457.96 493.10 458.57 491.95 C459.18 490.80 459.82 489.66 460.47 488.53 C461.12 487.40 461.79 486.28 462.49 485.17 C463.18 484.07 463.89 482.98 464.62 481.91 C465.35 480.83 466.09 479.77 466.86 478.73 C467.62 477.70 468.40 476.67 469.19 475.67 C469.99 474.67 470.80 473.69 471.62 472.73 C472.44 471.78 473.28 470.84 474.12 469.93 C474.97 469.02 475.83 468.13 476.69 467.26 C477.56 466.40 478.44 465.57 479.33 464.76 C480.21 463.95 481.11 463.17 482.01 462.41 C482.91 461.66 483.81 460.94 484.72 460.25 C485.63 459.55 486.55 458.89 487.47 458.26 C488.39 457.63 489.31 457.03 490.23 456.46 C491.15 455.90 492.08 455.36 493.00 454.87 C493.92 454.37 494.84 453.90 495.76 453.47 C496.68 453.04 497.59 452.65 498.50 452.29 C499.41 451.93 500.32 451.60 501.22 451.31 C502.12 451.03 503.01 450.78 503.90 450.56 C504.78 450.35 505.66 450.17 506.53 450.03 C507.40 449.89 508.26 449.78 509.10 449.72 C509.95 449.65 510.78 449.62 511.61 449.63 C512.43 449.64 513.24 449.69 514.03 449.77 C514.82 449.86 515.60 449.98 516.36 450.13 C517.13 450.29 517.87 450.49 518.60 450.72 C519.33 450.95 520.04 451.22 520.73 451.52 C521.43 451.83 522.41 452.38 522.75 452.55" stroke-width="2.60"/>
<path d="M481.17 563.16 C480.79 563.27 479.63 563.63 478.86 563.82 C478.10 564.02 477.34 564.18 476.59 564.33 C475.84 564.47 475.09 564.58 474.35 564.67 C473.62 564.76 472.89 564.82 472.17 564.86 C471.45 564.89 470.73 564.90 470.03 564.88 C469.33 564.87 468.63 564.82 467.95 564.75 C467.27 564.68 466.60 564.58 465.94 564.45 C465.27 564.33 464.63 564.18 463.99 564.00 C463.35 563.82 462.73 563.61 462.12 563.38 C461.51 563.15 460.91 562.90 460.32 562.61 C459.74 562.33 459.17 562.02 458.62 561.69 C458.06 561.35 457.52 560.99 457.00 560.61 C456.47 560.23 455.96 559.82 455.47 559.38 C454.98 558.95 454.50 558.49 454.04 558.01 C453.58 557.53 453.14 557.03 452.72 556.50 C452.29 555.97 451.88 555.42 451.49 554.85 C451.10 554.27 450.73 553.68 450.38 553.06 C450.03 552.44 449.69 551.80 449.38 551.15 C449.06 550.49 448.77 549.81 448.49 549.11 C448.22 548.41 447.96 547.69 447.72 546.95 C447.49 546.22 447.27 545.46 447.07 544.69 C446.87 543.91 446.70 543.12 446.54 542.32 C446.38 541.51 446.25 540.68 446.13 539.84 C446.02 539.01 445.92 538.15 445.85 537.28 C445.77 536.41 445.72 535.53 445.69 534.63 C445.65 533.74 445.64 532.83 445.65 531.91 C445.66 530.99 445.69 530.05 445.74 529.11 C445.79 528.17 445.86 527.21 445.95 526.25 C446.04 525.29 446.15 524.32 446.29 523.34 C446.42 522.36 446.67 520.87 446.74 520.37" stroke-width="3.60"/>
<path d="M474.90 475.30 L489.50 466.00 L520.70 452.30 L531.70 457.80 L535.40 468.00 L543.70 492.70 L544.00 505.00 L538.00 522.00 L528.00 540.00 L515.00 552.00 L498.00 561.00 L482.00 563.00 L468.00 557.00 L460.00 546.00 L454.70 530.00 L453.50 515.00 L458.30 496.40 L466.00 484.00Z" stroke-width="2.20"/>
<path d="M474.90 475.30 L489.50 467.00 L495.00 475.30 L483.10 485.40 L476.70 480.80Z" stroke-width="0.57" fill="#000"/>
<path d="M520.70 452.30 L531.70 457.80 L535.40 468.00 L524.40 465.20 L518.90 458.80Z" stroke-width="0.57" fill="#000"/>
<path d="M456.50 516.60 L466.60 522.00 L465.70 533.00 L454.70 527.60Z" stroke-width="0.57" fill="#000"/>
<path d="M460.00 547.00 L470.00 551.00 L476.00 560.00 L466.00 558.00Z" stroke-width="0.57" fill="#000"/>
<path d="M536.00 470.00 L543.70 492.70 L540.00 492.00 L532.00 471.00Z" stroke-width="0.57" fill="#000"/>
<path d="M489.50 466.00 L520.70 458.80 L524.40 464.30 L492.30 473.40Z" stroke-width="1.80"/>
<path d="M476.70 480.80 L483.10 485.40 L464.80 522.00 L458.30 518.40Z" stroke-width="1.80"/>
<path d="M528.00 473.89 C528.45 474.23 529.86 475.11 530.68 475.88 C531.51 476.64 532.26 477.52 532.94 478.48 C533.62 479.44 534.22 480.51 534.74 481.65 C535.26 482.80 535.70 484.04 536.05 485.35 C536.40 486.65 536.66 488.05 536.84 489.50 C537.01 490.94 537.10 492.47 537.10 494.03 C537.10 495.59 537.01 497.22 536.84 498.87 C536.66 500.53 536.39 502.23 536.04 503.94 C535.69 505.65 535.25 507.40 534.73 509.15 C534.21 510.89 533.61 512.65 532.93 514.40 C532.25 516.14 531.49 517.90 530.67 519.61 C529.85 521.33 528.94 523.04 527.99 524.69 C527.03 526.35 526.00 527.99 524.93 529.56 C523.85 531.13 522.72 532.67 521.54 534.12 C520.37 535.58 519.14 536.99 517.89 538.31 C516.64 539.63 515.35 540.89 514.04 542.05 C512.73 543.21 511.39 544.29 510.05 545.27 C508.71 546.25 507.34 547.14 505.99 547.92 C504.64 548.70 503.27 549.39 501.93 549.96 C500.59 550.53 499.25 551.00 497.94 551.35 C496.63 551.70 495.34 551.94 494.09 552.06 C492.84 552.19 491.61 552.20 490.44 552.09 C489.27 551.99 488.13 551.77 487.06 551.44 C485.98 551.10 484.96 550.66 484.00 550.11 C483.04 549.55 482.14 548.89 481.32 548.12 C480.49 547.36 479.74 546.48 479.06 545.52 C478.38 544.56 477.78 543.49 477.26 542.35 C476.74 541.20 476.30 539.96 475.95 538.65 C475.60 537.35 475.34 535.95 475.16 534.50 C474.99 533.06 474.90 531.53 474.90 529.97 C474.90 528.41 474.99 526.78 475.16 525.13 C475.34 523.47 475.61 521.77 475.96 520.06 C476.31 518.35 476.75 516.60 477.27 514.85 C477.79 513.11 478.39 511.35 479.07 509.60 C479.75 507.86 480.51 506.10 481.33 504.39 C482.15 502.67 483.06 500.96 484.01 499.31 C484.97 497.65 486.00 496.01 487.07 494.44 C488.15 492.87 489.28 491.33 490.46 489.88 C491.63 488.42 492.86 487.01 494.11 485.69 C495.36 484.37 496.65 483.11 497.96 481.95 C499.27 480.79 500.61 479.71 501.95 478.73 C503.29 477.75 504.66 476.86 506.01 476.08 C507.36 475.30 508.73 474.61 510.07 474.04 C511.41 473.47 512.75 473.00 514.06 472.65 C515.37 472.30 516.66 472.06 517.91 471.94 C519.16 471.81 520.39 471.80 521.56 471.91 C522.73 472.01 523.87 472.23 524.94 472.56 C526.02 472.90 527.49 473.67 528.00 473.89" stroke-width="2.20"/>
<path d="M523.00 482.56 C523.35 482.81 524.44 483.50 525.07 484.09 C525.71 484.68 526.30 485.35 526.82 486.10 C527.34 486.84 527.81 487.67 528.21 488.55 C528.61 489.43 528.95 490.39 529.22 491.40 C529.49 492.41 529.69 493.49 529.83 494.61 C529.97 495.73 530.03 496.91 530.03 498.12 C530.03 499.32 529.96 500.58 529.83 501.86 C529.69 503.13 529.48 504.45 529.21 505.77 C528.94 507.10 528.60 508.45 528.20 509.79 C527.80 511.14 527.33 512.51 526.81 513.85 C526.29 515.20 525.70 516.56 525.06 517.88 C524.43 519.21 523.73 520.53 522.99 521.81 C522.25 523.09 521.46 524.35 520.63 525.57 C519.80 526.78 518.92 527.97 518.01 529.10 C517.11 530.22 516.16 531.31 515.19 532.33 C514.22 533.35 513.22 534.32 512.21 535.22 C511.20 536.11 510.17 536.95 509.13 537.71 C508.09 538.46 507.04 539.15 505.99 539.76 C504.95 540.36 503.89 540.89 502.86 541.33 C501.82 541.77 500.78 542.13 499.77 542.40 C498.76 542.68 497.76 542.86 496.80 542.96 C495.83 543.05 494.88 543.06 493.98 542.98 C493.07 542.90 492.19 542.73 491.36 542.47 C490.53 542.22 489.74 541.87 489.00 541.44 C488.26 541.02 487.56 540.50 486.93 539.91 C486.29 539.32 485.70 538.65 485.18 537.90 C484.66 537.16 484.19 536.33 483.79 535.45 C483.39 534.57 483.05 533.61 482.78 532.60 C482.51 531.59 482.31 530.51 482.17 529.39 C482.03 528.27 481.97 527.09 481.97 525.88 C481.97 524.68 482.04 523.42 482.17 522.14 C482.31 520.87 482.52 519.55 482.79 518.23 C483.06 516.90 483.40 515.55 483.80 514.21 C484.20 512.86 484.67 511.49 485.19 510.15 C485.71 508.80 486.30 507.44 486.94 506.12 C487.57 504.79 488.27 503.47 489.01 502.19 C489.75 500.91 490.54 499.65 491.37 498.43 C492.20 497.22 493.08 496.03 493.99 494.90 C494.89 493.78 495.84 492.69 496.81 491.67 C497.78 490.65 498.78 489.68 499.79 488.78 C500.80 487.89 501.83 487.05 502.87 486.29 C503.91 485.54 504.96 484.85 506.01 484.24 C507.05 483.64 508.11 483.11 509.14 482.67 C510.18 482.23 511.22 481.87 512.23 481.60 C513.24 481.32 514.24 481.14 515.20 481.04 C516.17 480.95 517.12 480.94 518.02 481.02 C518.93 481.10 519.81 481.27 520.64 481.53 C521.47 481.78 522.61 482.38 523.00 482.56" stroke-width="1.40"/>
<path d="M516.50 486.81 C516.71 486.97 517.39 487.40 517.78 487.76 C518.17 488.12 518.54 488.54 518.86 489.00 C519.18 489.46 519.47 489.97 519.72 490.52 C519.96 491.06 520.17 491.66 520.34 492.28 C520.51 492.90 520.63 493.57 520.72 494.26 C520.80 494.95 520.84 495.68 520.84 496.42 C520.84 497.17 520.80 497.95 520.72 498.74 C520.63 499.52 520.51 500.34 520.34 501.15 C520.17 501.97 519.96 502.81 519.71 503.64 C519.47 504.47 519.18 505.31 518.85 506.15 C518.53 506.98 518.17 507.81 517.77 508.63 C517.38 509.45 516.95 510.27 516.49 511.06 C516.04 511.85 515.55 512.63 515.03 513.38 C514.52 514.13 513.98 514.86 513.42 515.56 C512.86 516.26 512.27 516.93 511.68 517.56 C511.08 518.19 510.46 518.79 509.84 519.34 C509.21 519.89 508.57 520.41 507.93 520.88 C507.29 521.35 506.64 521.77 506.00 522.14 C505.35 522.52 504.70 522.84 504.06 523.12 C503.42 523.39 502.78 523.61 502.15 523.78 C501.53 523.95 500.91 524.06 500.32 524.12 C499.72 524.18 499.13 524.18 498.57 524.13 C498.01 524.09 497.47 523.98 496.96 523.82 C496.45 523.66 495.96 523.45 495.50 523.19 C495.04 522.92 494.61 522.60 494.22 522.24 C493.83 521.88 493.46 521.46 493.14 521.00 C492.82 520.54 492.53 520.03 492.28 519.48 C492.04 518.94 491.83 518.34 491.66 517.72 C491.49 517.10 491.37 516.43 491.28 515.74 C491.20 515.05 491.16 514.32 491.16 513.58 C491.16 512.83 491.20 512.05 491.28 511.26 C491.37 510.48 491.49 509.66 491.66 508.85 C491.83 508.03 492.04 507.19 492.29 506.36 C492.53 505.53 492.82 504.69 493.15 503.85 C493.47 503.02 493.83 502.19 494.23 501.37 C494.62 500.55 495.05 499.73 495.51 498.94 C495.96 498.15 496.45 497.37 496.97 496.62 C497.48 495.87 498.02 495.14 498.58 494.44 C499.14 493.74 499.73 493.07 500.32 492.44 C500.92 491.81 501.54 491.21 502.16 490.66 C502.79 490.11 503.43 489.59 504.07 489.12 C504.71 488.65 505.36 488.23 506.00 487.86 C506.65 487.48 507.30 487.16 507.94 486.88 C508.58 486.61 509.22 486.39 509.85 486.22 C510.47 486.05 511.09 485.94 511.68 485.88 C512.28 485.82 512.87 485.82 513.43 485.87 C513.99 485.91 514.53 486.02 515.04 486.18 C515.55 486.34 516.26 486.71 516.50 486.81" stroke-width="3.40"/>
<path d="M494.00 495.00 L508.00 489.00 L518.00 494.00 L516.00 502.00 L505.00 506.00 L496.00 512.00 L492.00 508.00Z" stroke-width="0.57" fill="#000"/>
<path d="M486.00 500.00 L484.00 510.00 L486.00 520.00 L488.00 535.00" stroke-width="1.40"/>
<path d="M489.50 512.90 L518.00 503.70 L550.00 524.00 L531.70 533.00Z" stroke-width="2.00" fill="#fff"/>
<path d="M489.50 512.90 L531.70 533.00 L531.50 557.00 L490.00 537.00Z" stroke-width="2.00" fill="#fff"/>
<path d="M531.70 533.00 L550.00 524.00 L550.00 546.00 L531.50 557.00Z" stroke-width="2.40" fill="#fff"/>
<path d="M500.00 510.00 L548.00 526.50" stroke-width="1.15"/>
<path d="M499.00 513.00 L545.00 529.50" stroke-width="1.15"/>
<path d="M541.00 537.50 C541.83 537.50 543.08 538.50 543.50 539.50 C543.92 540.50 543.92 542.42 543.50 543.50 C543.08 544.58 541.83 546.00 541.00 546.00 C540.17 546.00 538.92 544.58 538.50 543.50 C538.08 542.42 538.08 540.50 538.50 539.50 C538.92 538.50 540.17 537.50 541.00 537.50Z" stroke-width="1.60"/>
<path d="M489.50 512.90 L497.00 510.00 L498.00 516.00" stroke-width="1.40"/>
<path d="M367.00 418.00 L353.00 430.00 L351.50 443.00 L358.00 433.50Z" stroke-width="2.00" fill="#fff"/>
<path d="M414.00 390.00 L430.00 386.00 L426.00 398.00 L422.00 391.50Z" stroke-width="2.00" fill="#fff"/>
<path d="M422.70 333.30 C423.58 335.25 426.45 340.55 428.00 345.00 C429.55 349.45 431.12 354.17 432.00 360.00 C432.88 365.83 433.75 373.33 433.30 380.00 C432.85 386.67 430.85 394.50 429.30 400.00 C427.75 405.50 424.88 410.83 424.00 413.00" stroke-width="2.20"/>
<path d="M428.00 333.00 C429.00 335.17 432.42 341.17 434.00 346.00 C435.58 350.83 437.00 355.50 437.50 362.00 C438.00 368.50 437.75 378.17 437.00 385.00 C436.25 391.83 433.67 400.00 433.00 403.00" stroke-width="1.26"/>
<path d="M396.00 358.70 L420.00 346.70" stroke-width="1.26"/>
<path d="M398.00 363.00 L421.00 351.00" stroke-width="1.26"/>
<path d="M401.00 357.00 L402.00 361.00" stroke-width="1.03"/>
<path d="M405.50 354.70 L406.50 358.70" stroke-width="1.03"/>
<path d="M410.00 352.40 L411.00 356.40" stroke-width="1.03"/>
<path d="M414.50 350.10 L415.50 354.10" stroke-width="1.03"/>
<path d="M336.00 337.30 L338.70 394.70" stroke-width="1.15"/>
<path d="M353.30 337.30 L352.00 378.70" stroke-width="1.15"/>
<path d="M338.70 394.70 L361.30 377.30" stroke-width="1.15"/>
<path d="M341.00 392.00 L362.00 382.00" stroke-width="1.15"/>
<path d="M350.70 382.70 L355.00 387.00" stroke-width="1.03"/>
<path d="M355.00 380.00 L359.00 384.00" stroke-width="1.03"/>
<path d="M404.00 333.00 L410.70 349.30 L421.30 346.70" stroke-width="1.15"/>
<path d="M406.00 340.00 L412.00 338.00 L418.00 344.00" stroke-width="1.15"/>
<path d="M308.30 448.30 C310.58 449.58 317.38 453.30 322.00 456.00 C326.62 458.70 333.67 463.08 336.00 464.50" stroke-width="2.00"/>
<path d="M320.00 443.30 C321.33 444.75 325.08 448.22 328.00 452.00 C330.92 455.78 334.38 462.17 337.50 466.00 C340.62 469.83 343.23 471.70 346.70 475.00 C350.17 478.30 354.13 482.33 358.30 485.80 C362.47 489.27 369.47 494.13 371.70 495.80" stroke-width="2.00"/>
<path d="M322.50 444.20 C324.42 444.00 329.97 443.98 334.00 443.00 C338.03 442.02 344.58 439.08 346.70 438.30" stroke-width="1.15"/>
<path d="M335.00 458.30 C337.17 457.58 343.70 455.93 348.00 454.00 C352.30 452.07 358.67 447.92 360.80 446.70" stroke-width="1.15"/>
<path d="M341.70 466.70 C344.08 465.92 351.42 463.82 356.00 462.00 C360.58 460.18 367.00 456.83 369.20 455.80" stroke-width="1.15"/>
<path d="M343.30 470.00 C345.75 469.50 353.42 468.38 358.00 467.00 C362.58 465.62 368.67 462.58 370.80 461.70" stroke-width="1.15"/>
<path d="M364.00 480.00 C364.50 479.50 368.58 481.33 370.00 483.00 C371.42 484.67 373.00 489.50 372.50 490.00 C372.00 490.50 368.42 487.67 367.00 486.00 C365.58 484.33 363.50 480.50 364.00 480.00Z" stroke-width="1.15"/>
<path d="M376.00 416.00 C376.33 417.67 377.33 422.00 378.00 426.00 C378.67 430.00 380.17 435.67 380.00 440.00 C379.83 444.33 378.00 449.00 377.00 452.00 C376.00 455.00 374.50 457.00 374.00 458.00" stroke-width="1.26"/>
<path d="M384.00 414.00 C384.33 416.33 385.33 423.50 386.00 428.00 C386.67 432.50 388.17 436.50 388.00 441.00 C387.83 445.50 386.33 451.50 385.00 455.00 C383.67 458.50 380.83 460.83 380.00 462.00" stroke-width="1.26"/>
<path d="M377.00 424.00 L386.00 423.00" stroke-width="1.03"/>
<path d="M377.00 433.00 L386.00 432.00" stroke-width="1.03"/>
<path d="M377.00 442.00 L386.00 441.00" stroke-width="1.03"/>
<path d="M377.00 451.00 L386.00 450.00" stroke-width="1.03"/>
<path d="M290.00 342.00 C293.00 343.78 302.22 349.67 308.00 352.67 C313.78 355.67 320.56 357.44 324.67 360.00 C328.78 362.56 331.34 366.67 332.67 368.00" stroke-width="1.15"/>
<path d="M290.00 356.00 C291.00 356.56 294.22 357.77 296.00 359.33 C297.78 360.88 298.78 362.77 300.67 365.33 C302.56 367.89 306.22 373.11 307.33 374.67" stroke-width="1.15"/>
<path d="M290.00 363.33 L308.00 352.33" stroke-width="1.15"/>
<path d="M308.00 352.33 C308.78 351.16 312.23 347.38 312.67 345.33 C313.12 343.27 311.00 340.89 310.67 340.00" stroke-width="1.15"/>
<path d="M290.00 377.33 C292.44 375.33 299.34 368.66 304.67 365.33 C310.00 362.00 319.11 358.66 322.00 357.33" stroke-width="1.15"/>
<path d="M294.00 376.00 C295.89 377.11 301.33 379.89 305.33 382.67 C309.33 385.45 313.89 389.23 318.00 392.67 C322.11 396.11 327.44 401.00 330.00 403.33 C332.56 405.66 332.77 406.11 333.33 406.67" stroke-width="1.15"/>
<path d="M306.67 340.00 C308.34 341.11 314.00 343.89 316.67 346.67 C319.34 349.45 321.12 354.12 322.67 356.67 C324.23 359.23 324.11 359.44 326.00 362.00 C327.89 364.56 332.67 370.33 334.00 372.00" stroke-width="1.15"/>
<path d="M310.00 374.67 C311.33 373.34 315.89 368.67 318.00 366.67 C320.11 364.67 321.89 363.34 322.67 362.67" stroke-width="1.15"/>
<path d="M326.00 374.67 L332.67 368.67" stroke-width="1.15"/>
<path d="M328.67 378.67 L334.00 374.67" stroke-width="1.15"/>
<path d="M332.67 368.67 C333.34 370.11 335.67 372.89 336.67 377.33 C337.67 381.77 338.34 392.33 338.67 395.33" stroke-width="1.15"/>
<path d="M335.33 369.33 C336.89 369.66 341.67 371.11 344.67 371.33 C347.67 371.55 351.89 370.78 353.33 370.67" stroke-width="1.15"/>
<path d="M335.33 376.00 C336.66 376.22 340.66 376.88 343.33 377.33 C346.00 377.77 350.00 378.45 351.33 378.67" stroke-width="1.15"/>
<path d="M336.67 378.67 L351.33 382.67" stroke-width="1.15"/>
<path d="M330.00 402.00 L338.00 408.00" stroke-width="1.15"/>
<path d="M327.33 409.33 L336.67 398.67" stroke-width="1.15"/>
<path d="M205.40 272.58 L206.22 273.30 L206.70 274.28 L206.78 275.37 L206.42 276.40 L205.70 277.22 L204.72 277.70 L203.63 277.78 L202.60 277.42 L201.78 276.70 L201.30 275.72 L201.22 274.63 L201.58 273.60 L202.30 272.78 L203.28 272.30 L204.37 272.22Z" stroke-width="0.57" fill="#000"/>
<path d="M334.10 195.59 L334.75 196.16 L335.13 196.93 L335.18 197.79 L334.91 198.60 L334.34 199.25 L333.57 199.63 L332.71 199.68 L331.90 199.41 L331.25 198.84 L330.87 198.07 L330.82 197.21 L331.09 196.40 L331.66 195.75 L332.43 195.37 L333.29 195.32Z" stroke-width="0.57" fill="#000"/>
<path d="M203.90 421.09 L204.55 421.66 L204.93 422.43 L204.98 423.29 L204.71 424.10 L204.14 424.75 L203.37 425.13 L202.51 425.18 L201.70 424.91 L201.05 424.34 L200.67 423.57 L200.62 422.71 L200.89 421.90 L201.46 421.25 L202.23 420.87 L203.09 420.82Z" stroke-width="0.57" fill="#000"/>
<text transform="matrix(0.66 0.381 0 1 296.2 314.1)" font-family="Liberation Sans" font-weight="bold" font-size="23.7" fill="#000" stroke="#000" stroke-width="0.2">DR</text>
<text transform="matrix(0.7 0.404 0 1 240.3 391.2)" font-family="Liberation Sans" font-weight="bold" font-size="19" fill="#000" stroke="#000" stroke-width="0.5">HOT</text>
<path d="M691.02 790.85 L682.41 786.30 L674.51 780.55 L667.37 773.65 L661.05 765.63 L655.58 756.56 L650.99 746.50 L647.34 735.51 L644.62 723.67 L642.88 711.06 L642.11 697.76 L642.32 683.87 L643.52 669.48 L645.69 654.69 L648.82 639.60 L652.88 624.30 L657.85 608.92 L663.70 593.54 L670.39 578.27 L677.87 563.22 L686.08 548.50 L694.98 534.19 L704.50 520.40 L714.59 507.22 L725.16 494.74 L736.15 483.05 L747.48 472.22 L759.08 462.33 L770.87 453.45 L782.77 445.63 L794.69 438.93 L806.56 433.40 L818.29 429.07 L829.81 425.97 L841.04 424.12 L851.89 423.54 L862.31 424.23 L872.21 426.18 L881.52 429.38 L890.20 433.82 L898.17 439.45" stroke-width="2.2"/>
<ellipse cx="798.70" cy="617.30" rx="204.60" ry="118.05" transform="rotate(-60 798.70 617.30)" stroke-width="2.2" />
<path d="M728.08 803.84 L718.33 802.18 L709.13 799.32 L700.53 795.29 L692.59 790.10 L685.36 783.79 L678.88 776.41 L673.21 767.99 L668.37 758.60 L664.40 748.29 L661.33 737.14 L659.17 725.21 L657.94 712.59 L657.65 699.36 L658.29 685.60 L659.87 671.40 L662.38 656.86 L665.79 642.07 L670.09 627.13 L675.25 612.14 L681.23 597.19 L687.99 582.38 L695.50 567.82 L703.69 553.58 L712.53 539.77 L721.94 526.49 L731.88 513.80 L742.26 501.80 L753.03 490.57 L764.12 480.18 L775.45 470.69 L786.95 462.18 L798.54 454.69 L810.15 448.27 L821.70 442.97 L833.11 438.82 L844.32 435.85 L855.24 434.07 L865.81 433.51 L875.96 434.15 L885.62 436.01" stroke-width="1.1"/>
<path d="M785.15 560.85 L783.93 560.02 L782.81 559.03 L781.81 557.88 L780.93 556.57 L780.17 555.12 L779.55 553.52 L779.06 551.80 L778.71 549.96 L778.50 548.01 L778.43 545.97 L778.50 543.85 L778.71 541.66 L779.06 539.41 L779.55 537.12 L780.18 534.81 L780.93 532.48 L781.82 530.15 L782.82 527.84 L783.93 525.56 L785.16 523.32 L786.48 521.14 L787.90 519.04 L789.40 517.01 L790.98 515.09 L792.61 513.27 L794.31 511.57 L796.04 510.00 L797.81 508.57 L799.60 507.29 L801.41 506.17 L803.21 505.21 L805.00 504.42 L806.77 503.80 L808.51 503.37 L810.20 503.11 L811.84 503.03 L813.41 503.14 L814.91 503.43 L816.33 503.91 L817.65 504.55 L834.05 514.05 L835.27 514.88 L836.39 515.87 L837.39 517.02 L838.27 518.33 L839.03 519.78 L839.65 521.38 L840.14 523.10 L840.49 524.94 L840.70 526.89 L840.77 528.93 L840.70 531.05 L840.49 533.24 L840.14 535.49 L839.65 537.78 L839.02 540.09 L838.27 542.42 L837.38 544.75 L836.38 547.06 L835.27 549.34 L834.04 551.58 L832.72 553.76 L831.30 555.86 L829.80 557.89 L828.22 559.81 L826.59 561.63 L824.89 563.33 L823.16 564.90 L821.39 566.33 L819.60 567.61 L817.79 568.73 L815.99 569.69 L814.20 570.48 L812.43 571.10 L810.69 571.53 L809.00 571.79 L807.36 571.87 L805.79 571.76 L804.29 571.47 L802.87 570.99 L801.55 570.35Z" fill="#fff" stroke-width="2"/>
<ellipse cx="817.80" cy="542.20" rx="32.50" ry="18.75" transform="rotate(-60 817.80 542.20)" stroke-width="1.6" fill="#fff"/>
<path d="M812.71 571.63 L810.99 571.89 L809.33 571.95 L807.74 571.82 L806.22 571.49 L804.80 570.97 L803.48 570.26 L802.27 569.36 L801.18 568.29 L800.21 567.05 L799.38 565.65 L798.68 564.09 L798.12 562.39 L797.71 560.56 L797.45 558.62 L797.34 556.57 L797.38 554.42 L797.57 552.20 L797.91 549.92 L798.40 547.60 L799.03 545.24 L799.80 542.87 L800.71 540.51 L801.75 538.16 L802.90 535.84 L804.17 533.58 L805.55 531.38 L807.02 529.26 L808.57 527.24 L810.20 525.32 L811.90 523.53 L813.65 521.87 L815.43 520.35 L817.25 518.99 L819.08 517.79 L820.92 516.77 L822.74 515.93 L824.55 515.27 L826.32 514.80 L828.05 514.53 L829.72 514.45" stroke-width="1"/>
<path d="M909.8 790 L909.8 990 Q909.8 999 923.5 999 Q937.3 999 937.3 990 L937.3 790" fill="#fff" stroke-width="2"/>
<path d="M765.60 742.85 L763.08 741.16 L760.79 739.12 L758.73 736.75 L756.92 734.06 L755.37 731.07 L754.09 727.80 L753.08 724.26 L752.36 720.47 L751.92 716.47 L751.78 712.28 L751.93 707.92 L752.36 703.41 L753.09 698.79 L754.10 694.09 L755.38 689.33 L756.93 684.55 L758.75 679.77 L760.81 675.02 L763.10 670.33 L765.62 665.73 L768.34 661.25 L771.26 656.92 L774.34 652.76 L777.58 648.79 L780.94 645.06 L784.42 641.57 L787.99 638.34 L791.63 635.41 L795.31 632.77 L799.01 630.47 L802.72 628.49 L806.40 626.87 L810.04 625.60 L813.61 624.71 L817.08 624.18 L820.45 624.03 L823.68 624.25 L826.77 624.85 L829.68 625.82 L832.40 627.15 L903.40 668.65 L905.92 670.34 L908.21 672.38 L910.27 674.75 L912.08 677.44 L913.63 680.43 L914.91 683.70 L915.92 687.24 L916.64 691.03 L917.08 695.03 L917.22 699.22 L917.07 703.58 L916.64 708.09 L915.91 712.71 L914.90 717.41 L913.62 722.17 L912.07 726.95 L910.25 731.73 L908.19 736.48 L905.90 741.17 L903.38 745.77 L900.66 750.25 L897.74 754.58 L894.66 758.74 L891.42 762.71 L888.06 766.44 L884.58 769.93 L881.01 773.16 L877.37 776.09 L873.69 778.73 L869.99 781.03 L866.28 783.01 L862.60 784.63 L858.96 785.90 L855.39 786.79 L851.92 787.32 L848.55 787.47 L845.32 787.25 L842.23 786.65 L839.32 785.68 L836.60 784.35Z" fill="#fff" stroke-width="2.2"/>
<path d="M822.60 775.85 L820.08 774.16 L817.79 772.12 L815.73 769.75 L813.92 767.06 L812.37 764.07 L811.09 760.80 L810.08 757.26 L809.36 753.47 L808.92 749.47 L808.78 745.28 L808.93 740.92 L809.36 736.41 L810.09 731.79 L811.10 727.09 L812.38 722.33 L813.93 717.55 L815.75 712.77 L817.81 708.02 L820.10 703.33 L822.62 698.73 L825.34 694.25 L828.26 689.92 L831.34 685.76 L834.58 681.79 L837.94 678.06 L841.42 674.57 L844.99 671.34 L848.63 668.41 L852.31 665.77 L856.01 663.47 L859.72 661.49 L863.40 659.87 L867.04 658.60 L870.61 657.71 L874.08 657.18 L877.45 657.03 L880.68 657.25 L883.77 657.85 L886.68 658.82 L889.40 660.15" stroke-width="1.1"/>
<path d="M836.60 784.35 L834.08 782.66 L831.79 780.62 L829.73 778.25 L827.92 775.56 L826.37 772.57 L825.09 769.30 L824.08 765.76 L823.36 761.97 L822.92 757.97 L822.78 753.78 L822.93 749.42 L823.36 744.91 L824.09 740.29 L825.10 735.59 L826.38 730.83 L827.93 726.05 L829.75 721.27 L831.81 716.52 L834.10 711.83 L836.62 707.23 L839.34 702.75 L842.26 698.42 L845.34 694.26 L848.58 690.29 L851.94 686.56 L855.42 683.07 L858.99 679.84 L862.63 676.91 L866.31 674.27 L870.01 671.97 L873.72 669.99 L877.40 668.37 L881.04 667.10 L884.61 666.21 L888.08 665.68 L891.45 665.53 L894.68 665.75 L897.77 666.35 L900.68 667.32 L903.40 668.65 L974.40 707.65 L976.92 709.34 L979.21 711.38 L981.27 713.75 L983.08 716.44 L984.63 719.43 L985.91 722.70 L986.92 726.24 L987.64 730.03 L988.08 734.03 L988.22 738.22 L988.07 742.58 L987.64 747.09 L986.91 751.71 L985.90 756.41 L984.62 761.17 L983.07 765.95 L981.25 770.73 L979.19 775.48 L976.90 780.17 L974.38 784.77 L971.66 789.25 L968.74 793.58 L965.66 797.74 L962.42 801.71 L959.06 805.44 L955.58 808.93 L952.01 812.16 L948.37 815.09 L944.69 817.73 L940.99 820.03 L937.28 822.01 L933.60 823.63 L929.96 824.90 L926.39 825.79 L922.92 826.32 L919.55 826.47 L916.32 826.25 L913.23 825.65 L910.32 824.68 L907.60 823.35Z" fill="#fff" stroke-width="2.2"/>
<ellipse cx="941.00" cy="765.50" rx="66.80" ry="38.54" transform="rotate(-60 941.00 765.50)" stroke-width="2.2" fill="#fff"/>
<path d="M938.84 822.38 L934.54 824.16 L930.31 825.43 L926.19 826.18 L922.23 826.41 L918.45 826.10 L914.90 825.27 L911.59 823.92 L908.57 822.06 L905.85 819.71 L903.46 816.89 L901.43 813.63 L899.76 809.95 L898.49 805.89 L897.61 801.48 L897.13 796.76 L897.06 791.78 L897.41 786.58 L898.15 781.20 L899.30 775.69 L900.84 770.10 L902.76 764.49 L905.03 758.89 L907.64 753.37 L910.57 747.96 L913.79 742.72 L917.27 737.70 L920.97 732.93 L924.88 728.47 L928.95 724.34 L933.14 720.59 L937.43 717.25 L941.76 714.35 L946.11 711.92 L950.43 709.98 L954.69 708.53 L958.85 707.61 L962.87 707.21 L966.71 707.34 L970.34 708.00 L973.74 709.18" stroke-width="1.1"/>
<path d="M787.20 312.80 L787.20 441.00" stroke-width="1.6"/>
<path d="M941.70 402.50 L941.70 714.00" stroke-width="1.6"/>
<path d="M787.20 312.80 L828.70 339.30" stroke-width="1.6"/>
<path d="M900.70 380.20 L941.70 402.50" stroke-width="1.6"/>
<path d="M787.2 312.8 L814.5 324 L807 335.3Z" fill="#000" stroke="none"/>
<path d="M942 402.7 L921.7 384 L915 396Z" fill="#000" stroke="none"/>
<path d="M941.00 766.50 L1010.50 806.30" stroke-width="1.4"/>
<path d="M933.60 998.00 L1010.50 1042.40" stroke-width="1.4"/>
<path d="M1009.90 806.30 L1009.90 900.50" stroke-width="1.6"/>
<path d="M1009.90 947.00 L1009.90 1042.40" stroke-width="1.6"/>
<path d="M1009.9 806.3 L1001.8 832.3 L1017.5 832.3Z" fill="#000" stroke="none"/>
<path d="M1009.9 1042.4 L1001.8 1014.3 L1017.5 1014.3Z" fill="#000" stroke="none"/>
<path d="M473.00 781.70 L577.50 781.70" stroke-width="1.6"/>
<path d="M577.50 781.70 L628.00 744.00" stroke-width="1.6"/>
<path d="M645 727 L615.5 742 L624.5 752.5Z" fill="#000" stroke="none"/>
</svg>

<div class="t" style="left:828.3px;top:336px">~85</div>
<div class="t" style="left:471.3px;top:735px">&#216;150</div>
<div class="t" style="left:976px;top:899.5px;transform:scale(0.975,1.07)">105</div>
<div style="position:absolute;left:977px;top:934.3px;width:8.7px;height:6.4px;background:#fff"></div>
<div style="position:absolute;left:990.9px;top:934.3px;width:8px;height:6.4px;background:#fff"></div>
<div style="position:absolute;left:506.5px;top:769.3px;width:8.2px;height:6.4px;background:#fff"></div>
<div style="position:absolute;left:519.9px;top:769.3px;width:7.6px;height:6.4px;background:#fff"></div>

</body></html>
